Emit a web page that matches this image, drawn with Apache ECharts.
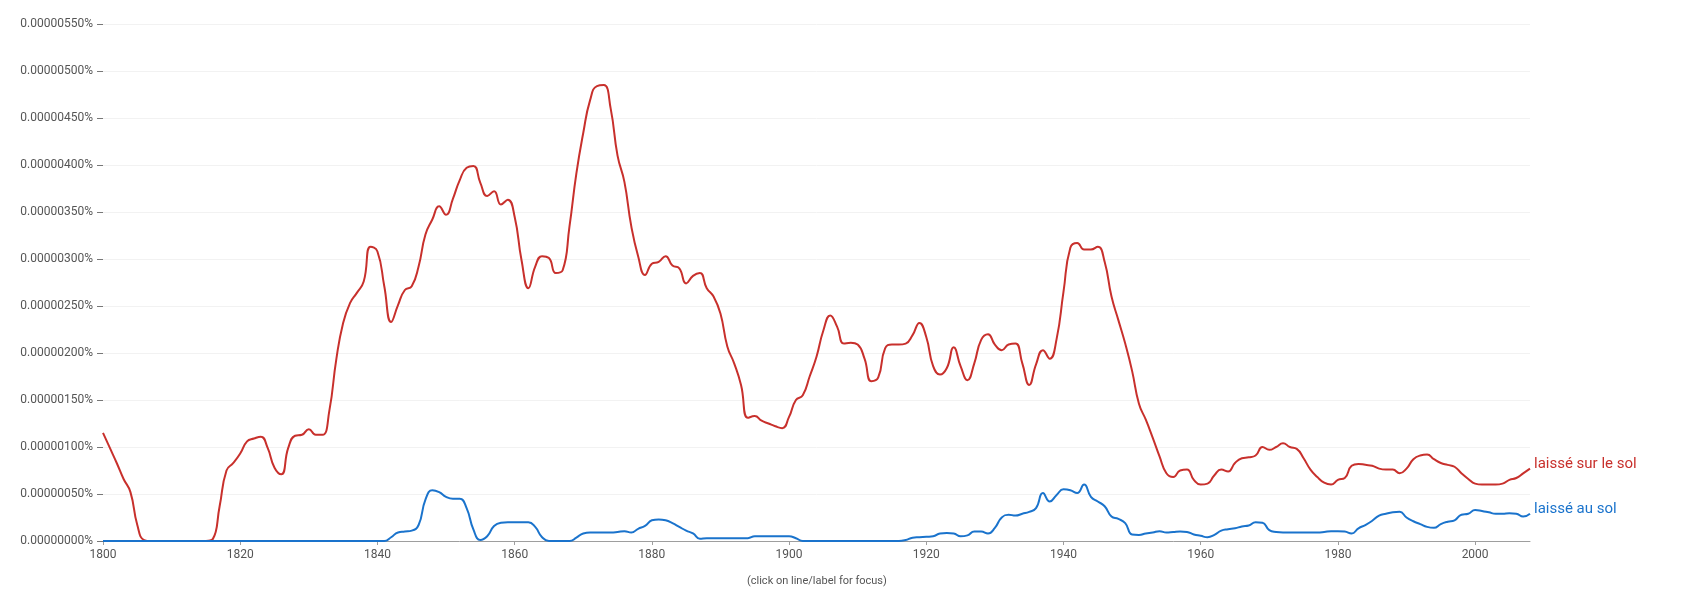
<!DOCTYPE html>
<html>
<head>
<meta charset="utf-8">
<script src="https://cdn.jsdelivr.net/npm/echarts@6/dist/echarts.min.js"></script>
<style>
html,body{margin:0;padding:0;background:#fff;}
#chart{width:1692px;height:610px;}
</style>
</head>
<body>
<div id="chart"></div>
<script>
// Years 1800..2008; values in units of 0.000001 %
const startYear = 1800;
const endYear = 2008;
const xTickLabels = [1800, 1820, 1840, 1860, 1880, 1900, 1920, 1940, 1960, 1980, 2000];

const seriesNames = ['laissé sur le sol', 'laissé au sol'];

const laisseSurLeSol = [
  1.15, 0.99, 0.83, 0.66, 0.52, 0.17, 0.01, 0, 0, 0,
  0, 0, 0, 0, 0, 0, 0.02, 0.37, 0.75, 0.83,
  0.93, 1.06, 1.09, 1.11, 0.99, 0.78, 0.71, 0.99, 1.12, 1.13,
  1.19, 1.13, 1.13, 1.39, 1.93, 2.32, 2.53, 2.64, 2.76, 3.13,
  3.08, 2.71, 2.33, 2.51, 2.67, 2.71, 2.92, 3.26, 3.42, 3.56,
  3.47, 3.64, 3.84, 3.97, 3.99, 3.81, 3.67, 3.72, 3.58, 3.63,
  3.45, 2.99, 2.69, 2.92, 3.03, 3.01, 2.85, 2.88, 3.35, 3.91,
  4.34, 4.69, 4.84, 4.85, 4.60, 4.10, 3.82, 3.35, 3.03, 2.83,
  2.95, 2.97, 3.03, 2.93, 2.90, 2.74, 2.82, 2.85, 2.69, 2.60,
  2.42, 2.07, 1.89, 1.66, 1.31, 1.33, 1.28, 1.25, 1.22, 1.20,
  1.32, 1.50, 1.55, 1.75, 1.96, 2.24, 2.40, 2.28, 2.10, 2.11,
  2.09, 1.94, 1.70, 1.74, 2.05, 2.09, 2.09, 2.10, 2.19, 2.32,
  2.17, 1.86, 1.77, 1.84, 2.06, 1.86, 1.71, 1.89, 2.14, 2.20,
  2.09, 2.03, 2.09, 2.10, 1.89, 1.66, 1.88, 2.03, 1.94, 2.15,
  2.65, 3.12, 3.17, 3.10, 3.10, 3.13, 2.97, 2.60, 2.35, 2.10,
  1.81, 1.46, 1.29, 1.10, 0.90, 0.72, 0.68, 0.75, 0.76, 0.65,
  0.60, 0.61, 0.70, 0.76, 0.74, 0.83, 0.88, 0.89, 0.91, 1.00,
  0.97, 1.00, 1.04, 1.00, 0.98, 0.88, 0.76, 0.68, 0.62, 0.60,
  0.65, 0.67, 0.80, 0.82, 0.81, 0.80, 0.77, 0.76, 0.76, 0.72,
  0.77, 0.87, 0.91, 0.92, 0.87, 0.83, 0.81, 0.79, 0.72, 0.66,
  0.61, 0.60, 0.60, 0.60, 0.61, 0.65, 0.67, 0.72, 0.77
];

const laisseAuSol = [
  0, 0, 0, 0, 0, 0, 0, 0, 0, 0,
  0, 0, 0, 0, 0, 0, 0, 0, 0, 0,
  0, 0, 0, 0, 0, 0, 0, 0, 0, 0,
  0, 0, 0, 0, 0, 0, 0, 0, 0, 0,
  0, 0, 0.04, 0.09, 0.10, 0.11, 0.17, 0.44, 0.54, 0.52,
  0.47, 0.45, 0.45, 0.35, 0.12, 0.01, 0.05, 0.16, 0.195, 0.20,
  0.20, 0.20, 0.20, 0.15, 0.04, 0, 0, 0, 0, 0.035,
  0.08, 0.09, 0.09, 0.09, 0.09, 0.095, 0.105, 0.09, 0.13, 0.16,
  0.22, 0.23, 0.22, 0.19, 0.15, 0.11, 0.08, 0.025, 0.03, 0.03,
  0.03, 0.03, 0.03, 0.03, 0.03, 0.05, 0.05, 0.05, 0.05, 0.05,
  0.05, 0.03, 0, 0, 0, 0, 0, 0, 0, 0,
  0, 0, 0, 0, 0, 0, 0, 0.01, 0.035, 0.04,
  0.045, 0.05, 0.08, 0.085, 0.08, 0.05, 0.06, 0.10, 0.10, 0.08,
  0.14, 0.25, 0.28, 0.27, 0.29, 0.31, 0.35, 0.51, 0.42, 0.49,
  0.55, 0.54, 0.51, 0.60, 0.47, 0.42, 0.37, 0.26, 0.235, 0.19,
  0.07, 0.065, 0.08, 0.09, 0.105, 0.09, 0.095, 0.10, 0.095, 0.07,
  0.055, 0.04, 0.065, 0.11, 0.125, 0.135, 0.155, 0.165, 0.20, 0.195,
  0.115, 0.095, 0.09, 0.09, 0.09, 0.09, 0.09, 0.09, 0.095, 0.105,
  0.105, 0.10, 0.08, 0.135, 0.17, 0.215, 0.27, 0.29, 0.305, 0.31,
  0.25, 0.21, 0.18, 0.15, 0.14, 0.18, 0.205, 0.22, 0.28, 0.29,
  0.33, 0.32, 0.305, 0.29, 0.29, 0.295, 0.29, 0.26, 0.29
];

const colors = ['#c8302c', '#1a73cc'];

function toPairs(arr) {
  return arr.map((v, i) => [startYear + i, v]);
}

const chart = echarts.init(document.getElementById('chart'), null, {renderer: 'canvas'});

const fontFamily = 'Roboto, "Noto Sans", sans-serif';

function makeSeries(idx, values, z) {
  return {
    name: seriesNames[idx],
    type: 'line',
    data: toPairs(values),
    smooth: 0.5,
    symbol: 'none',
    lineStyle: {color: colors[idx], width: 2},
    itemStyle: {color: colors[idx]},
    z: z,
    endLabel: {
      show: true,
      formatter: p => p.seriesName,
      color: colors[idx],
      fontSize: 15,
      fontFamily: fontFamily,
      distance: 4,
      offset: [0, -4]
    }
  };
}

chart.setOption({
  animation: false,
  backgroundColor: '#ffffff',
  grid: {left: 103, right: 162, top: 24, bottom: 69, containLabel: false},
  xAxis: {
    type: 'value',
    min: startYear,
    max: endYear,
    interval: 20,
    axisLine: {show: true, lineStyle: {color: '#9e9e9e', width: 1}},
    axisTick: {show: true, length: 4, lineStyle: {color: '#9e9e9e'}, customValues: xTickLabels},
    axisLabel: {
      show: true, color: '#555555', fontSize: 12, fontFamily: fontFamily, margin: 8,
      customValues: xTickLabels,
      formatter: v => String(v)
    },
    splitLine: {show: false}
  },
  yAxis: {
    type: 'value',
    min: 0,
    max: 5.5,
    interval: 0.5,
    axisLine: {show: false},
    axisTick: {show: true, length: 6, inside: false, lineStyle: {color: '#777777'}},
    axisLabel: {
      color: '#555555', fontSize: 12, fontFamily: fontFamily, margin: 10,
      formatter: v => (v / 1e6).toFixed(8) + '%'
    },
    splitLine: {show: true, lineStyle: {color: '#f2f2f2', width: 1}}
  },
  graphic: [{
    type: 'text',
    left: 747,
    top: 576,
    style: {
      text: '(click on line/label for focus)',
      fill: '#555555',
      font: '11px ' + fontFamily
    }
  }],
  series: [
    makeSeries(0, laisseSurLeSol, 2),
    makeSeries(1, laisseAuSol, 3)
  ]
});
</script>
</body>
</html>
